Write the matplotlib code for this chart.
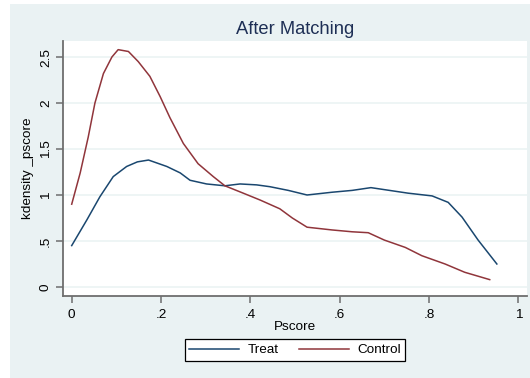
"""Kernel density of propensity score after matching — Stata-style figure."""
import numpy as np, matplotlib
matplotlib.use("Agg")
import matplotlib.pyplot as plt
from matplotlib.patches import Rectangle

plt.rcParams.update({"font.family": ["Liberation Sans", "DejaVu Sans"], "font.size": 9.7})

# ---- data ----
treat_x = [0.0, 0.034, 0.063, 0.093, 0.123, 0.147, 0.172, 0.213, 0.243, 0.265, 0.302,
           0.343, 0.377, 0.414, 0.444, 0.485, 0.527, 0.583, 0.628, 0.67, 0.753,
           0.807, 0.843, 0.874, 0.91, 0.952]
treat_y = [0.45, 0.73, 0.98, 1.20, 1.31, 1.36, 1.38, 1.31, 1.24, 1.16, 1.12,
           1.10, 1.12, 1.11, 1.09, 1.05, 1.00, 1.03, 1.05, 1.08, 1.02,
           0.99, 0.92, 0.76, 0.51, 0.25]
ctrl_x = [0.0, 0.019, 0.037, 0.052, 0.071, 0.09, 0.104, 0.127, 0.149, 0.175, 0.198,
          0.22, 0.25, 0.283, 0.317, 0.343, 0.384, 0.422, 0.466, 0.494, 0.527,
          0.583, 0.628, 0.664, 0.70, 0.747, 0.784, 0.836, 0.88, 0.936]
ctrl_y = [0.90, 1.24, 1.63, 2.00, 2.32, 2.50, 2.58, 2.56, 2.45, 2.29, 2.07,
          1.84, 1.56, 1.34, 1.20, 1.10, 1.02, 0.945, 0.85, 0.75, 0.65,
          0.62, 0.60, 0.59, 0.51, 0.43, 0.34, 0.25, 0.16, 0.08]
xticks = [0, 0.2, 0.4, 0.6, 0.8, 1.0]
xticklabels = ["0", ".2", ".4", ".6", ".8", "1"]
yticks = [0, 0.5, 1, 1.5, 2, 2.5]
yticklabels = ["0", ".5", "1", "1.5", "2", "2.5"]

BG = "#EAF2F3"; NAVY = "#1A476F"; MAROON = "#90353B"; AX = "#6E6E6E"

fig = plt.figure(figsize=(5.30, 3.78), dpi=100)
fig.patch.set_facecolor("white")
fig.patches.append(Rectangle((10/530, 0), 520/530, 374/378, transform=fig.transFigure,
                             fc=BG, ec="none", zorder=-10))

ax = fig.add_axes([63/530, (378-296)/378, 464/530, (296-41)/378])
ax.set_facecolor("white")
ax.plot(treat_x, treat_y, color=NAVY, lw=1.1, label="Treat")
ax.plot(ctrl_x, ctrl_y, color=MAROON, lw=1.1, label="Control")

ax.set_xlim(-0.0195, 1.0195); ax.set_ylim(-0.098, 2.674)
ax.set_xticks(xticks, xticklabels); ax.set_yticks(yticks, yticklabels)
ax.tick_params(axis="y", labelrotation=90, length=5, width=1.1, color=AX, pad=3)
ax.tick_params(axis="x", length=5, width=1.1, color=AX, pad=4)
for lbl in ax.get_yticklabels(): lbl.set_va("center")
ax.grid(True, axis="y", color=BG, lw=1.1); ax.set_axisbelow(True)
for s in ["top", "right"]: ax.spines[s].set_visible(False)
for s in ["left", "bottom"]:
    ax.spines[s].set_color(AX); ax.spines[s].set_linewidth(1.3)

ax.set_xlabel("Pscore", labelpad=0)
ax.set_ylabel("kdensity _pscore", labelpad=4)
fig.text(295/530, (378-30)/378, "After Matching", ha="center", va="center",
         fontsize=13.2, color="#1E2F55")

leg = fig.legend(loc="center", bbox_to_anchor=(295/530, (378-350)/378), ncol=2,
                 handlelength=3.7, columnspacing=1.55, handletextpad=0.6,
                 fancybox=False, edgecolor="black", framealpha=1, borderpad=0.35)
leg.get_frame().set_linewidth(0.9)

fig.savefig("out.png", dpi=100)
